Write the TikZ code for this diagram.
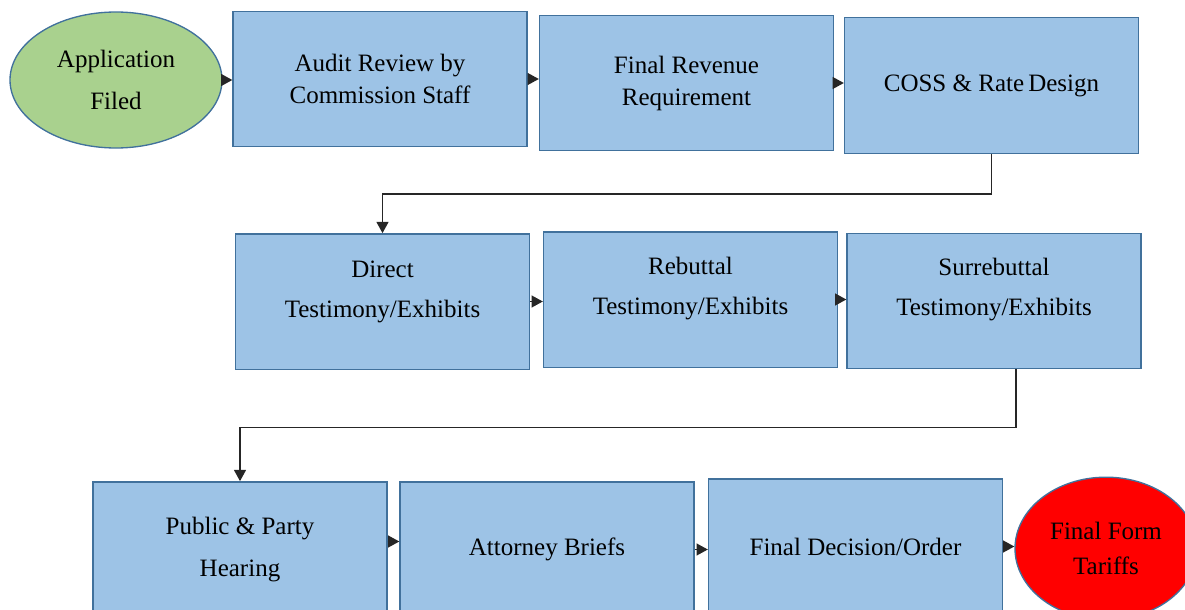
\documentclass[tikz,border=0pt]{standalone}
\usepackage{fontspec}
\setmainfont{Liberation Serif}
\usetikzlibrary{shapes.geometric,arrows.meta}
\definecolor{boxblue}{HTML}{9DC3E6}
\definecolor{edgeblue}{HTML}{41719C}
\definecolor{startgreen}{HTML}{A9D18E}
\begin{document}
\begin{tikzpicture}[x=0.75pt,y=-0.75pt,
  stage/.style={draw=edgeblue,fill=boxblue,line width=1pt,minimum width=220.5pt,minimum height=101.5pt,inner sep=0pt,align=center,font=\fontsize{18.75}{24}\selectfont},
  terminal/.style={ellipse,draw=edgeblue,line width=1pt,inner sep=0pt,align=center,font=\fontsize{18.75}{24}\selectfont},
  flow/.style={draw=black!85,line width=1.1pt,-{Triangle[length=8.5pt,width=9pt]}}]
\useasboundingbox (0,0) rectangle (1185,610);
% first row
\node[terminal,fill=startgreen,minimum width=159pt,minimum height=102pt] (app) at (116,80) {Application\\[7pt]Filed};
\node[stage] (audit) at (380,79) {Audit Review by\\Commission Staff};
\node[stage] (revenue) at (686.5,83) {Final Revenue\\Requirement};
\node[stage] (coss) at (991.5,85.5) {COSS \& Rate\,Design};
% second row, text sits high in the boxes
\node[stage,text depth=19pt] (direct) at (382.5,301.5) {Direct\\[6pt]Testimony/Exhibits};
\node[stage,text depth=21pt] (rebuttal) at (690.5,299.5) {Rebuttal\\[6pt]Testimony/Exhibits};
\node[stage,text depth=21pt] (surrebuttal) at (994,301) {Surrebuttal\\[6pt]Testimony/Exhibits};
% third row
\node[stage] (public) at (240,549.5) {Public \& Party\\[8pt]Hearing};
\node[stage] (attorney) at (547,549.5) {Attorney Briefs};
\node[stage] (decision) at (855.5,546.5) {Final Decision/Order};
\node[terminal,fill=red,minimum width=136.5pt,minimum height=107pt] (tariffs) at (1106,548.5) {Final Form\\[2pt]Tariffs};
% arrows
\draw[flow] (app.east) -- (app.east -| audit.west);
\draw[flow] (audit.east) -- (audit.east -| revenue.west);
\draw[flow] (revenue.east) -- (revenue.east -| coss.west);
\draw[flow] (coss.south) -- ++(0,40) -| (direct.north);
\draw[flow] (direct.east) -- (direct.east -| rebuttal.west);
\draw[flow] (rebuttal.east) -- (rebuttal.east -| surrebuttal.west);
\draw[flow] ([xshift=16.5pt]surrebuttal.south) -- ++(0,58) -| (public.north);
\draw[flow] ([yshift=6pt]public.east) -- ([yshift=6pt]public.east -| attorney.west);
\draw[flow] (attorney.east) -- (attorney.east -| decision.west);
\draw[flow] (decision.east) -- (decision.east -| tariffs.west);
\end{tikzpicture}
\end{document}
